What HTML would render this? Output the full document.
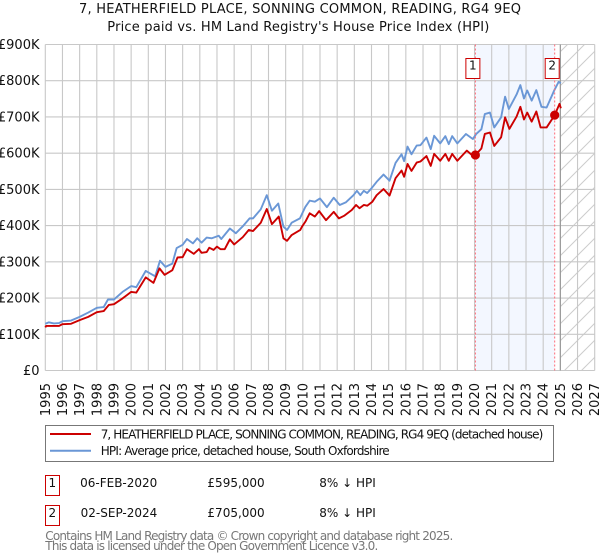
<!DOCTYPE html>
<html lang="en">
<head>
<meta charset="utf-8">
<title>7, Heatherfield Place price chart</title>
<style>
html,body{margin:0;padding:0;background:#fff;}
svg{display:block;font-family:"DejaVu Sans","Liberation Sans",sans-serif;}
</style>
</head>
<body>
<svg id="chart" xmlns="http://www.w3.org/2000/svg" width="600" height="560" viewBox="0 0 600 560">
<defs>
<pattern id="hatch" patternUnits="userSpaceOnUse" width="17" height="17">
<path d="M-2 2L2 -2M0 17L17 0M15 19L19 15" stroke="#ccc" stroke-width="1" fill="none"/>
</pattern>
</defs>
<text x="79" y="13" font-size="13" fill="#111" textLength="442" lengthAdjust="spacing">7, HEATHERFIELD PLACE, SONNING COMMON, READING, RG4 9EQ</text>
<text x="107.3" y="31" font-size="13" fill="#111" textLength="382" lengthAdjust="spacing">Price paid vs. HM Land Registry's House Price Index (HPI)</text>
<g id="plot-back"></g>
<g id="grid"></g>
<g id="series"></g>
<g id="marks"></g>
<g id="y-axis"></g>
<g id="x-axis"></g>

<g>
<rect x="45.5" y="425.5" width="508" height="36" fill="#fff" stroke="#777" stroke-width="1"/>
<line x1="50" x2="91" y1="434" y2="434" stroke="#cc0000" stroke-width="2"/>
<text x="100.7" y="438.3" font-size="12" fill="#111" textLength="442.6" lengthAdjust="spacing">7, HEATHERFIELD PLACE, SONNING COMMON, READING, RG4 9EQ (detached house)</text>
<line x1="50" x2="91" y1="450.7" y2="450.7" stroke="#6a97d6" stroke-width="2"/>
<text x="100.7" y="455" font-size="12" fill="#111" textLength="289" lengthAdjust="spacing">HPI: Average price, detached house, South Oxfordshire</text>
</g>

<g>
<rect x="45.5" y="475.5" width="14" height="20" fill="#fff" stroke="#cc0000" stroke-width="1"/>
<text x="52.3" y="487" font-size="12" fill="#111" text-anchor="middle">1</text>
<text x="157.3" y="487" font-size="12" fill="#111" text-anchor="end">06-FEB-2020</text>
<text x="264.7" y="487" font-size="12" fill="#111" text-anchor="end">£595,000</text>
<text x="319.3" y="487" font-size="12" fill="#111">8% ↓ HPI</text>
<rect x="45.5" y="505.5" width="14" height="20" fill="#fff" stroke="#cc0000" stroke-width="1"/>
<text x="52.3" y="517" font-size="12" fill="#111" text-anchor="middle">2</text>
<text x="157.3" y="517" font-size="12" fill="#111" text-anchor="end">02-SEP-2024</text>
<text x="264.7" y="517" font-size="12" fill="#111" text-anchor="end">£705,000</text>
<text x="319.3" y="517" font-size="12" fill="#111">8% ↓ HPI</text>
</g>

<text x="45.3" y="540" font-size="12" fill="#777" textLength="408" lengthAdjust="spacing">Contains HM Land Registry data © Crown copyright and database right 2025.</text>
<text x="45.3" y="550" font-size="12" fill="#777" textLength="333" lengthAdjust="spacing">This data is licensed under the Open Government Licence v3.0.</text>
</svg>

<script>
const xTickYears = [1995,1996,1997,1998,1999,2000,2001,2002,2003,2004,2005,2006,2007,2008,2009,2010,2011,2012,2013,2014,2015,2016,2017,2018,2019,2020,2021,2022,2023,2024,2025,2026,2027];
const yTickValues = [0,100,200,300,400,500,600,700,800,900];
const yTickLabels = ['£0','£100K','£200K','£300K','£400K','£500K','£600K','£700K','£800K','£900K'];

const hpiYears = [1995,1995.2,1995.5,1995.8,1996,1996.5,1997,1997.5,1998,1998.4,1998.65,1999,1999.5,2000,2000.3,2000.85,2001.4,2001.68,2002,2002.4,2002.65,2003,2003.25,2003.6,2003.85,2004.1,2004.4,2004.7,2005.1,2005.25,2005.75,2006.1,2006.5,2006.9,2007.1,2007.55,2007.9,2008.2,2008.57,2008.87,2009.08,2009.35,2009.83,2010.15,2010.4,2010.7,2011,2011.4,2011.8,2012.15,2012.5,2012.95,2013.15,2013.35,2013.55,2013.75,2014,2014.3,2014.7,2015.05,2015.4,2015.75,2015.9,2016.1,2016.33,2016.63,2016.85,2017.2,2017.45,2017.65,2018,2018.3,2018.5,2018.7,2019,2019.5,2019.9,2020.1,2020.4,2020.6,2020.9,2021.15,2021.55,2021.78,2022,2022.45,2022.67,2022.88,2023.07,2023.33,2023.6,2023.9,2024.2,2024.65,2024.9,2025.03];
const hpiValues = [129,133,130,131,136,138,148,160,173,175,196,196,217,233,230,275,260,303,286,295,338,347,363,351,365,353,367,365,372,363,392,379,398,420,420,445,484,441,461,397,388,408,420,452,469,466,475,451,477,457,464,484,496,484,496,490,503,521,541,524,573,597,578,618,597,621,622,643,611,648,627,647,625,647,627,653,639,653,666,708,712,671,699,756,722,762,788,751,773,745,774,728,726,774,797,793];

const paidYears = [1995,1995.05,1995.8,1996,1996.5,1997,1997.5,1998,1998.4,1998.7,1999,1999.5,2000,2000.3,2000.85,2001.3,2001.65,2001.95,2002.4,2002.7,2003,2003.25,2003.65,2003.95,2004.1,2004.4,2004.55,2004.8,2005,2005.2,2005.45,2005.75,2006,2006.5,2006.85,2007.1,2007.55,2007.9,2008.2,2008.6,2008.87,2009.08,2009.35,2009.85,2009.95,2010.15,2010.4,2010.7,2010.95,2011.35,2011.8,2012.1,2012.4,2012.85,2013.1,2013.3,2013.55,2013.75,2014.05,2014.3,2014.7,2015.05,2015.4,2015.75,2015.9,2016.1,2016.33,2016.63,2016.85,2017.2,2017.45,2017.65,2018,2018.3,2018.5,2018.7,2019,2019.55,2019.85,2020.05,2020.4,2020.6,2020.9,2021.15,2021.55,2021.78,2022.03,2022.45,2022.67,2022.88,2023.07,2023.33,2023.6,2023.85,2024.2,2024.67,2024.95,2025.03];
const paidValues = [119,123,123,128,129,139,148,161,164,181,183,199,217,215,257,242,282,264,277,312,313,335,322,335,325,327,339,333,342,335,335,362,348,368,388,385,408,446,404,425,365,358,374,388,397,411,434,425,440,415,438,420,427,443,457,448,457,455,466,484,501,483,531,552,535,570,551,574,577,592,565,598,579,598,579,598,579,607,595,595,613,653,657,620,644,699,667,701,728,693,712,687,715,671,671,705,736,724];

const saleYears = [2020.05,2024.67];
const saleValues = [595,705];
const saleLabels = ['1','2'];

const NS = 'http://www.w3.org/2000/svg';
const xLeft = 45.3, xRight = 594.7, yBottom = 370.5, yTop = 44.5;
const forecastStartYear = 2025;

function xScale(year){ return xLeft + (year - 1995) * (xRight - xLeft) / 32; }
function yScale(value){ return yBottom - value * (yBottom - yTop) / 900; }
function make(parent, tag, attrs){
  const el = document.createElementNS(NS, tag);
  Object.keys(attrs).forEach(function(k){ el.setAttribute(k, attrs[k]); });
  parent.appendChild(el);
  return el;
}

const back = document.getElementById('plot-back');
const shade = make(back, 'rect', {x:xScale(saleYears[0]), y:yTop, width:xScale(saleYears[1])-xScale(saleYears[0]), height:yBottom-yTop, fill:'#f3f7ff'});


const hatch = make(back, 'rect', {x:xScale(forecastStartYear), y:yTop, width:xRight-xScale(forecastStartYear), height:yBottom-yTop, fill:'url(#hatch)'});



const grid = document.getElementById('grid');
yTickValues.forEach(function(v){
  const l = make(grid, 'line', {x1:xLeft, x2:xRight, y1:yScale(v), y2:yScale(v), stroke:'#c8c8c8', 'stroke-width':1.1});
  
  
});
xTickYears.forEach(function(yr){
  const l = make(grid, 'line', {x1:xScale(yr), x2:xScale(yr), y1:yTop, y2:yBottom, stroke:'#c8c8c8', 'stroke-width':1.1});
  
  
});
const nowLine = make(grid, 'line', {x1:xScale(forecastStartYear), x2:xScale(forecastStartYear), y1:yTop, y2:yBottom, stroke:'#999', 'stroke-width':1.2});



const series = document.getElementById('series');
function pathFrom(xs, vs){
  return xs.map(function(x, i){ return (i ? 'L' : 'M') + xScale(x).toFixed(2) + ' ' + yScale(vs[i]).toFixed(2); }).join('');
}
const hpiLine = make(series, 'path', {d:pathFrom(hpiYears, hpiValues), fill:'none', stroke:'#6a97d6', 'stroke-width':1.9, 'stroke-linejoin':'round'});


const paidLine = make(series, 'path', {d:pathFrom(paidYears, paidValues), fill:'none', stroke:'#cc0000', 'stroke-width':1.9, 'stroke-linejoin':'round'});



const marks = document.getElementById('marks');
saleYears.forEach(function(yr, i){
  const sx = xScale(yr);
  const dash = make(marks, 'line', {x1:sx, x2:sx, y1:yTop, y2:yBottom, stroke:'#ff6b78', 'stroke-width':1, 'stroke-dasharray':'2 2'});
  
  
  const dot = make(marks, 'circle', {cx:sx, cy:yScale(saleValues[i]), r:4.6, fill:'#cc0000'});
  
  
  const box = make(marks, 'rect', {x:sx-9.5, y:58.5, width:14, height:20, fill:'#fff', stroke:'#cc0000', 'stroke-width':1});
  
  
  const t = make(marks, 'text', {x:sx-2.5, y:69.5, 'font-size':12, fill:'#111', 'text-anchor':'middle'});
  
  
  t.textContent = saleLabels[i];
});

const yAxis = document.getElementById('y-axis');
yTickValues.forEach(function(v, i){
  const t = make(yAxis, 'text', {x:39.5, y:yScale(v)+4.5, 'font-size':13, fill:'#111', 'text-anchor':'end'});
  
  
  t.textContent = yTickLabels[i];
});

const xAxis = document.getElementById('x-axis');
xTickYears.forEach(function(yr){
  const px = xScale(yr) + 4.5;
  const t = make(xAxis, 'text', {x:px, y:383, 'font-size':13, fill:'#111', 'text-anchor':'end', transform:'rotate(-90 ' + px + ' 383)'});
  
  
  t.textContent = String(yr);
});
</script>
</body>
</html>
